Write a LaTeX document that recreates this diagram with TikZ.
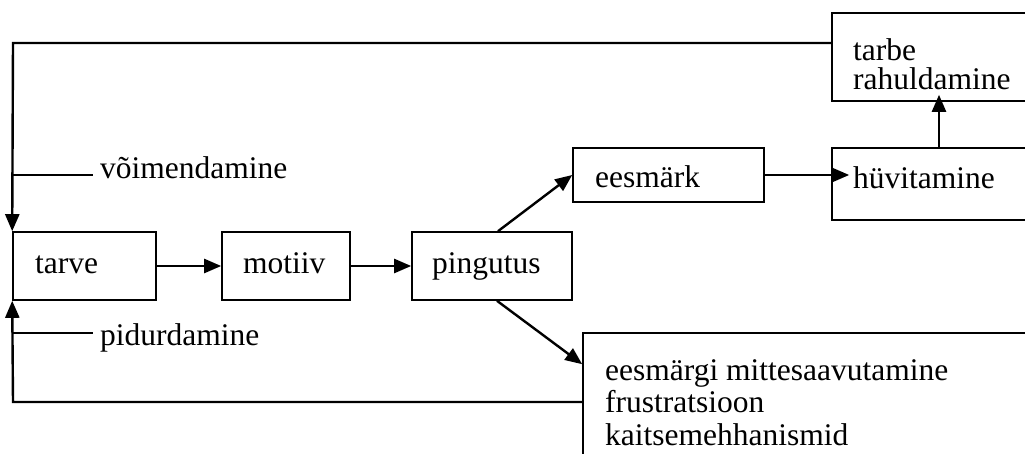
\documentclass[tikz,border=0pt]{standalone}
\usepackage{fontspec}
\setmainfont{Liberation Serif}
\usetikzlibrary{arrows.meta,calc}
\begin{document}
\begin{tikzpicture}[x=1pt,y=-1pt,
  box/.style={draw,line width=1.6pt,minimum width=#1,inner sep=0pt,rectangle},
  txt/.style={anchor=base west,inner sep=0pt,align=left,font=\fontsize{31.5}{33}\selectfont},
  lbl/.style={anchor=base west,inner ysep=0pt,inner xsep=7pt,font=\fontsize{31.5}{33}\selectfont},
  arr/.style={line width=2.4pt,-{Triangle[length=17pt,width=14pt]}},
  ln/.style={line width=2.4pt}]
\useasboundingbox (0,0) rectangle (1025,454);
\clip (0,0) rectangle (1025,454);
% boxes
\node[box=143pt,minimum height=68pt] (tarve) at (84.5,266) {};
\node[box=128pt,minimum height=68pt] (motiiv) at (286,266) {};
\node[box=160pt,minimum height=68pt] (ping) at (492,266) {};
\node[box=191pt,minimum height=54pt] (eesm) at (668.5,175) {};
\node[box=208pt,minimum height=72pt] (huv) at (936,184) {};
\node[box=208pt,minimum height=88pt] (tarbe) at (936,57) {};
\node[box=457pt,minimum height=147pt] (bot) at (811.5,406.5) {};
% texts
\node[txt] (t1) at (35,273) {tarve};
\node[txt] (t2) at (243,273) {motiiv};
\node[txt] (t3) at (432,273) {pingutus};
\node[txt] (t4) at (595,188) {eesmärk};
\node[txt] (t5) at (853,189) {hüvitamine};
\node[txt,font=\fontsize{31.5}{29}\selectfont] (t6) at (853,90) {tarbe\\rahuldamine};
\node[txt,font=\fontsize{31.5}{32.5}\selectfont] (t7) at (605,445) {eesmärgi mittesaavutamine\\frustratsioon\\kaitsemehhanismid};
\node[lbl] (vm) at (93,179) {võimendamine};
\node[lbl] (pd) at (93,345) {pidurdamine};
% feedback loops
\coordinate (topL) at (13,43);
\coordinate (botL) at (13,402);
\draw[arr] (topL -| tarbe.west) -- (topL) -- (tarve.north west);
\draw[arr] (botL -| bot.west) -- (botL) -- (tarve.south west);
\coordinate (vmL) at (13,175);
\coordinate (pdL) at (13,333);
\draw[ln] (vmL) -- (vmL -| vm.west);
\draw[ln] (pdL) -- (pdL -| pd.west);
% main flow
\draw[arr] (tarve.east) -- (motiiv.west);
\draw[arr] (motiiv.east) -- (ping.west);
\draw[arr] ([xshift=6pt]ping.north) -- (eesm.west);
\draw[arr] ([xshift=5pt]ping.south) -- ([yshift=-32pt]bot.north west);
\coordinate (hvT) at ($(eesm.east -| huv.west)+(18,0)$);
\draw[arr] (eesm.east) -- (hvT);
\draw[arr] ([xshift=3pt]huv.north) -- ([xshift=3pt,yshift=7pt]tarbe.south);
\end{tikzpicture}
\end{document}
